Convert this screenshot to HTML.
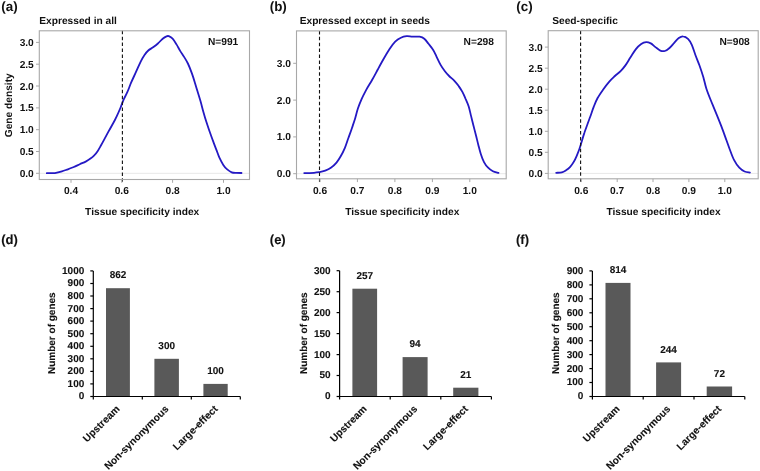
<!DOCTYPE html>
<html><head><meta charset="utf-8"><style>
html,body{margin:0;padding:0;background:#fff;width:760px;height:471px;overflow:hidden}
svg{display:block;will-change:transform}
text{font-family:"Liberation Sans", sans-serif;fill:#111;text-rendering:geometricPrecision}
.bt text{stroke:#111;stroke-width:0.1px}
</style></head><body>
<svg width="760" height="471" viewBox="0 0 760 471">
<rect width="760" height="471" fill="#fff"/>
<text x="1.3" y="10.7" text-anchor="start" font-size="13.4" font-weight="bold" >(a)</text>
<text x="39.3" y="23.8" text-anchor="start" font-size="10.2" font-weight="bold" >Expressed in all</text>
<line x1="39.3" y1="173.3" x2="249.5" y2="173.3" stroke="#e8e8e8" stroke-width="1"/>
<path d="M46.8,173.2 C47.7,173.2 50.5,173.2 52.0,173.1 C53.5,173.0 54.4,173.1 56.0,172.8 C57.6,172.5 59.9,172.0 61.9,171.4 C63.9,170.8 65.9,170.0 67.9,169.3 C69.9,168.6 71.8,167.8 73.8,167.0 C75.8,166.2 77.8,165.1 79.8,164.2 C81.8,163.3 83.9,162.5 85.7,161.6 C87.5,160.7 89.1,159.6 90.5,158.6 C91.9,157.6 92.8,156.9 94.0,155.7 C95.2,154.5 96.4,153.0 97.6,151.2 C98.8,149.4 100.0,147.1 101.2,145.0 C102.4,142.9 103.6,140.6 104.8,138.4 C106.0,136.2 107.1,134.1 108.3,131.9 C109.5,129.8 110.8,127.5 111.9,125.5 C113.0,123.5 114.1,121.6 114.9,120.0 C115.7,118.4 115.8,118.2 116.8,116.1 C117.8,114.0 119.5,110.2 120.6,107.5 C121.7,104.8 122.4,102.5 123.5,99.9 C124.6,97.4 126.0,95.1 127.3,92.2 C128.6,89.3 129.7,86.0 131.1,82.7 C132.5,79.4 134.3,75.7 135.9,72.2 C137.5,68.7 139.3,64.5 140.7,61.6 C142.1,58.7 143.2,56.8 144.5,54.9 C145.8,53.0 146.9,51.8 148.3,50.5 C149.7,49.2 151.5,48.5 153.1,47.3 C154.7,46.1 156.3,44.9 157.9,43.5 C159.5,42.1 161.3,39.9 162.7,38.7 C164.1,37.5 165.5,36.7 166.5,36.3 C167.5,35.9 167.8,35.8 168.8,36.2 C169.8,36.6 171.3,37.3 172.6,38.7 C173.9,40.1 175.2,42.3 176.5,44.4 C177.8,46.5 179.0,49.0 180.3,51.1 C181.6,53.2 182.8,54.8 184.1,56.9 C185.4,59.0 186.6,60.8 187.9,63.5 C189.2,66.2 190.7,70.1 191.8,73.1 C192.9,76.1 193.7,78.7 194.6,81.7 C195.5,84.7 196.5,88.1 197.5,91.3 C198.5,94.5 199.4,97.3 200.4,100.8 C201.4,104.2 202.4,108.4 203.4,112.0 C204.4,115.6 205.4,119.0 206.5,122.3 C207.6,125.6 208.6,128.7 209.7,131.8 C210.8,134.9 211.9,138.0 213.0,140.9 C214.1,143.8 215.1,146.5 216.2,149.3 C217.3,152.1 218.2,155.1 219.4,157.7 C220.6,160.3 222.0,162.9 223.3,164.9 C224.6,166.9 225.8,168.2 227.2,169.4 C228.6,170.6 230.2,171.7 231.7,172.3 C233.2,172.9 234.7,172.8 236.3,172.9 C237.9,173.0 240.6,173.0 241.5,173.0" fill="none" stroke="#2419c4" stroke-width="1.8" stroke-linejoin="round" stroke-linecap="round"/>
<line x1="122.4" y1="30.8" x2="122.4" y2="183.0" stroke="#111" stroke-width="1.1" stroke-dasharray="3.5 2.4"/>
<rect x="39.3" y="30.8" width="210.2" height="148.7" fill="none" stroke="#a8a8a8" stroke-width="1.1"/>
<line x1="36.0" y1="173.3" x2="39.3" y2="173.3" stroke="#a8a8a8" stroke-width="1"/>
<text x="33.8" y="176.8" text-anchor="end" font-size="10.2" font-weight="bold" >0.0</text>
<line x1="36.0" y1="151.5" x2="39.3" y2="151.5" stroke="#a8a8a8" stroke-width="1"/>
<text x="33.8" y="155.0" text-anchor="end" font-size="10.2" font-weight="bold" >0.5</text>
<line x1="36.0" y1="129.7" x2="39.3" y2="129.7" stroke="#a8a8a8" stroke-width="1"/>
<text x="33.8" y="133.2" text-anchor="end" font-size="10.2" font-weight="bold" >1.0</text>
<line x1="36.0" y1="107.9" x2="39.3" y2="107.9" stroke="#a8a8a8" stroke-width="1"/>
<text x="33.8" y="111.4" text-anchor="end" font-size="10.2" font-weight="bold" >1.5</text>
<line x1="36.0" y1="86.0" x2="39.3" y2="86.0" stroke="#a8a8a8" stroke-width="1"/>
<text x="33.8" y="89.5" text-anchor="end" font-size="10.2" font-weight="bold" >2.0</text>
<line x1="36.0" y1="64.2" x2="39.3" y2="64.2" stroke="#a8a8a8" stroke-width="1"/>
<text x="33.8" y="67.7" text-anchor="end" font-size="10.2" font-weight="bold" >2.5</text>
<line x1="36.0" y1="42.4" x2="39.3" y2="42.4" stroke="#a8a8a8" stroke-width="1"/>
<text x="33.8" y="45.9" text-anchor="end" font-size="10.2" font-weight="bold" >3.0</text>
<line x1="71.0" y1="179.5" x2="71.0" y2="182.8" stroke="#a8a8a8" stroke-width="1"/>
<text x="71.0" y="194" text-anchor="middle" font-size="10.2" font-weight="bold" >0.4</text>
<line x1="121.8" y1="179.5" x2="121.8" y2="182.8" stroke="#a8a8a8" stroke-width="1"/>
<text x="121.8" y="194" text-anchor="middle" font-size="10.2" font-weight="bold" >0.6</text>
<line x1="172.6" y1="179.5" x2="172.6" y2="182.8" stroke="#a8a8a8" stroke-width="1"/>
<text x="172.6" y="194" text-anchor="middle" font-size="10.2" font-weight="bold" >0.8</text>
<line x1="223.5" y1="179.5" x2="223.5" y2="182.8" stroke="#a8a8a8" stroke-width="1"/>
<text x="223.5" y="194" text-anchor="middle" font-size="10.2" font-weight="bold" >1.0</text>
<text x="238.3" y="44.8" text-anchor="end" font-size="10.2" font-weight="bold" >N=991</text>
<text x="142.2" y="215.1" text-anchor="middle" font-size="10.2" font-weight="bold" >Tissue specificity index</text>
<text x="0" y="0" transform="translate(12,105.3) rotate(-90) scale(1,1.0)" text-anchor="middle" font-size="10.2" font-weight="bold">Gene density</text>
<text x="269.7" y="10.7" text-anchor="start" font-size="13.4" font-weight="bold" >(b)</text>
<text x="299.7" y="23.8" text-anchor="start" font-size="10.2" font-weight="bold" >Expressed except in seeds</text>
<line x1="296.5" y1="173.7" x2="506.2" y2="173.7" stroke="#e8e8e8" stroke-width="1"/>
<path d="M304.2,173.1 C305.8,173.1 311.4,173.0 314.0,172.8 C316.6,172.6 317.7,172.4 319.6,172.1 C321.5,171.8 323.3,171.4 325.2,170.7 C327.1,170.0 329.0,169.2 330.9,167.8 C332.8,166.5 334.9,164.5 336.5,162.6 C338.1,160.7 339.3,158.8 340.7,156.3 C342.1,153.9 343.6,151.0 344.9,147.9 C346.2,144.8 347.2,141.3 348.4,138.0 C349.6,134.7 350.8,131.5 351.9,128.2 C353.0,124.9 354.2,121.5 355.2,118.2 C356.2,114.9 356.8,111.7 357.9,108.5 C359.0,105.3 360.3,102.1 361.7,98.9 C363.1,95.7 364.8,92.6 366.5,89.4 C368.2,86.2 370.3,83.2 372.2,79.8 C374.1,76.4 376.0,72.8 377.9,69.3 C379.8,65.8 381.8,62.1 383.7,58.8 C385.6,55.4 387.5,52.1 389.4,49.2 C391.3,46.3 393.3,43.5 395.2,41.6 C397.1,39.7 399.0,38.6 400.9,37.7 C402.8,36.8 404.7,36.4 406.6,36.2 C408.5,36.0 410.2,36.5 412.4,36.6 C414.6,36.7 417.6,36.4 419.6,36.7 C421.6,37.1 422.8,37.5 424.3,38.7 C425.8,39.9 427.0,41.9 428.5,43.8 C430.0,45.7 431.9,47.9 433.2,50.0 C434.5,52.1 435.2,53.9 436.4,56.4 C437.6,58.9 439.2,62.4 440.6,64.9 C442.0,67.4 443.5,69.4 444.9,71.2 C446.3,73.0 447.5,74.4 449.1,76.0 C450.7,77.6 452.8,79.1 454.4,80.8 C456.0,82.5 457.4,84.2 458.7,86.1 C460.0,87.9 461.2,89.8 462.4,91.9 C463.5,94.0 464.6,96.4 465.6,98.8 C466.7,101.2 467.8,103.6 468.7,106.5 C469.6,109.4 470.3,112.9 471.1,116.1 C471.9,119.3 472.7,122.6 473.5,125.8 C474.3,129.0 475.2,132.3 476.0,135.5 C476.8,138.7 477.6,142.1 478.4,145.2 C479.2,148.3 479.9,151.2 480.8,154.0 C481.7,156.8 482.8,159.8 484.0,162.1 C485.2,164.4 486.6,166.2 488.1,167.7 C489.6,169.2 491.2,170.4 492.9,171.3 C494.6,172.2 497.6,172.6 498.5,172.9" fill="none" stroke="#2419c4" stroke-width="1.8" stroke-linejoin="round" stroke-linecap="round"/>
<line x1="319.5" y1="30.9" x2="319.5" y2="182.3" stroke="#111" stroke-width="1.1" stroke-dasharray="3.5 2.4"/>
<rect x="296.5" y="30.9" width="209.7" height="147.9" fill="none" stroke="#a8a8a8" stroke-width="1.1"/>
<line x1="293.2" y1="173.7" x2="296.5" y2="173.7" stroke="#a8a8a8" stroke-width="1"/>
<text x="291.0" y="177.2" text-anchor="end" font-size="10.2" font-weight="bold" >0.0</text>
<line x1="293.2" y1="136.9" x2="296.5" y2="136.9" stroke="#a8a8a8" stroke-width="1"/>
<text x="291.0" y="140.4" text-anchor="end" font-size="10.2" font-weight="bold" >1.0</text>
<line x1="293.2" y1="100.1" x2="296.5" y2="100.1" stroke="#a8a8a8" stroke-width="1"/>
<text x="291.0" y="103.6" text-anchor="end" font-size="10.2" font-weight="bold" >2.0</text>
<line x1="293.2" y1="63.3" x2="296.5" y2="63.3" stroke="#a8a8a8" stroke-width="1"/>
<text x="291.0" y="66.8" text-anchor="end" font-size="10.2" font-weight="bold" >3.0</text>
<line x1="320.0" y1="178.8" x2="320.0" y2="182.10000000000002" stroke="#a8a8a8" stroke-width="1"/>
<text x="320.0" y="194" text-anchor="middle" font-size="10.2" font-weight="bold" >0.6</text>
<line x1="357.4" y1="178.8" x2="357.4" y2="182.10000000000002" stroke="#a8a8a8" stroke-width="1"/>
<text x="357.4" y="194" text-anchor="middle" font-size="10.2" font-weight="bold" >0.7</text>
<line x1="394.9" y1="178.8" x2="394.9" y2="182.10000000000002" stroke="#a8a8a8" stroke-width="1"/>
<text x="394.9" y="194" text-anchor="middle" font-size="10.2" font-weight="bold" >0.8</text>
<line x1="432.4" y1="178.8" x2="432.4" y2="182.10000000000002" stroke="#a8a8a8" stroke-width="1"/>
<text x="432.4" y="194" text-anchor="middle" font-size="10.2" font-weight="bold" >0.9</text>
<line x1="469.8" y1="178.8" x2="469.8" y2="182.10000000000002" stroke="#a8a8a8" stroke-width="1"/>
<text x="469.8" y="194" text-anchor="middle" font-size="10.2" font-weight="bold" >1.0</text>
<text x="493.9" y="44.8" text-anchor="end" font-size="10.2" font-weight="bold" >N=298</text>
<text x="402.3" y="215.1" text-anchor="middle" font-size="10.2" font-weight="bold" >Tissue specificity index</text>
<text x="516.3" y="10.7" text-anchor="start" font-size="13.4" font-weight="bold" >(c)</text>
<text x="552.2" y="23.8" text-anchor="start" font-size="10.2" font-weight="bold" >Seed-specific</text>
<line x1="548.2" y1="173.4" x2="758.2" y2="173.4" stroke="#e8e8e8" stroke-width="1"/>
<path d="M556.2,172.8 C557.1,172.7 560.2,172.8 561.8,172.4 C563.4,172.0 564.6,171.2 566.0,170.3 C567.4,169.4 568.9,168.2 570.2,166.8 C571.5,165.4 572.7,163.7 573.7,161.9 C574.8,160.2 575.6,158.4 576.5,156.3 C577.4,154.2 578.5,151.6 579.3,149.3 C580.1,147.0 580.7,145.0 581.5,142.3 C582.3,139.6 583.2,136.3 584.3,133.1 C585.3,129.9 586.8,126.1 587.8,123.3 C588.8,120.5 589.4,119.1 590.4,116.3 C591.4,113.5 592.6,109.6 593.8,106.6 C595.0,103.5 596.0,100.9 597.6,98.0 C599.2,95.1 601.5,91.9 603.4,89.2 C605.3,86.5 607.2,84.0 609.1,81.8 C611.0,79.6 613.0,77.8 614.9,76.0 C616.8,74.2 618.9,73.0 620.6,71.2 C622.4,69.4 623.8,67.6 625.4,65.4 C627.0,63.2 628.5,60.5 630.2,57.8 C632.0,55.1 634.1,51.4 635.9,49.1 C637.7,46.8 639.5,45.2 641.2,44.0 C642.9,42.8 644.6,42.2 646.2,42.1 C647.8,42.0 649.2,42.6 650.8,43.4 C652.3,44.2 653.9,45.9 655.5,47.1 C657.1,48.3 658.8,50.0 660.3,50.6 C661.8,51.2 663.3,51.4 664.8,51.0 C666.3,50.6 667.9,49.4 669.5,48.0 C671.1,46.6 672.7,44.5 674.2,42.8 C675.8,41.1 677.3,39.1 678.8,38.0 C680.3,36.9 681.7,36.1 683.2,36.3 C684.7,36.4 686.6,37.5 688.0,38.9 C689.4,40.3 690.6,42.1 691.8,44.8 C693.0,47.5 694.1,51.5 695.4,55.0 C696.7,58.5 698.2,61.9 699.5,65.5 C700.8,69.2 702.1,73.0 703.3,76.9 C704.4,80.8 705.0,84.4 706.4,88.7 C707.8,93.0 709.9,98.1 711.7,102.5 C713.5,106.9 715.4,111.4 717.0,115.3 C718.6,119.2 719.8,122.2 721.2,125.9 C722.6,129.6 724.1,133.7 725.5,137.6 C726.9,141.5 728.3,145.5 729.7,149.2 C731.1,152.9 732.4,156.8 734.0,159.9 C735.6,163.0 737.5,165.8 739.3,167.7 C741.1,169.6 742.8,170.7 744.6,171.5 C746.4,172.3 749.0,172.4 749.9,172.6" fill="none" stroke="#2419c4" stroke-width="1.8" stroke-linejoin="round" stroke-linecap="round"/>
<line x1="580.6" y1="30.7" x2="580.6" y2="182.3" stroke="#111" stroke-width="1.1" stroke-dasharray="3.5 2.4"/>
<rect x="548.2" y="30.7" width="210.0" height="148.10000000000002" fill="none" stroke="#a8a8a8" stroke-width="1.1"/>
<line x1="544.9000000000001" y1="173.4" x2="548.2" y2="173.4" stroke="#a8a8a8" stroke-width="1"/>
<text x="542.7" y="176.9" text-anchor="end" font-size="10.2" font-weight="bold" >0.0</text>
<line x1="544.9000000000001" y1="152.3" x2="548.2" y2="152.3" stroke="#a8a8a8" stroke-width="1"/>
<text x="542.7" y="155.8" text-anchor="end" font-size="10.2" font-weight="bold" >0.5</text>
<line x1="544.9000000000001" y1="131.3" x2="548.2" y2="131.3" stroke="#a8a8a8" stroke-width="1"/>
<text x="542.7" y="134.8" text-anchor="end" font-size="10.2" font-weight="bold" >1.0</text>
<line x1="544.9000000000001" y1="110.2" x2="548.2" y2="110.2" stroke="#a8a8a8" stroke-width="1"/>
<text x="542.7" y="113.7" text-anchor="end" font-size="10.2" font-weight="bold" >1.5</text>
<line x1="544.9000000000001" y1="89.2" x2="548.2" y2="89.2" stroke="#a8a8a8" stroke-width="1"/>
<text x="542.7" y="92.7" text-anchor="end" font-size="10.2" font-weight="bold" >2.0</text>
<line x1="544.9000000000001" y1="68.2" x2="548.2" y2="68.2" stroke="#a8a8a8" stroke-width="1"/>
<text x="542.7" y="71.7" text-anchor="end" font-size="10.2" font-weight="bold" >2.5</text>
<line x1="544.9000000000001" y1="47.1" x2="548.2" y2="47.1" stroke="#a8a8a8" stroke-width="1"/>
<text x="542.7" y="50.6" text-anchor="end" font-size="10.2" font-weight="bold" >3.0</text>
<line x1="581.3" y1="178.8" x2="581.3" y2="182.10000000000002" stroke="#a8a8a8" stroke-width="1"/>
<text x="581.3" y="194" text-anchor="middle" font-size="10.2" font-weight="bold" >0.6</text>
<line x1="617.2" y1="178.8" x2="617.2" y2="182.10000000000002" stroke="#a8a8a8" stroke-width="1"/>
<text x="617.2" y="194" text-anchor="middle" font-size="10.2" font-weight="bold" >0.7</text>
<line x1="653.0" y1="178.8" x2="653.0" y2="182.10000000000002" stroke="#a8a8a8" stroke-width="1"/>
<text x="653.0" y="194" text-anchor="middle" font-size="10.2" font-weight="bold" >0.8</text>
<line x1="688.9" y1="178.8" x2="688.9" y2="182.10000000000002" stroke="#a8a8a8" stroke-width="1"/>
<text x="688.9" y="194" text-anchor="middle" font-size="10.2" font-weight="bold" >0.9</text>
<line x1="724.8" y1="178.8" x2="724.8" y2="182.10000000000002" stroke="#a8a8a8" stroke-width="1"/>
<text x="724.8" y="194" text-anchor="middle" font-size="10.2" font-weight="bold" >1.0</text>
<text x="749.8" y="44.8" text-anchor="end" font-size="10.2" font-weight="bold" >N=908</text>
<text x="663.5" y="215.1" text-anchor="middle" font-size="10.2" font-weight="bold" >Tissue specificity index</text>
<g class="bt">
<text x="1.2" y="243.8" text-anchor="start" font-size="13" font-weight="bold" >(d)</text>
<rect x="106.0" y="288.2" width="23.9" height="108.3" fill="#595959"/>
<text x="118.0" y="278.4" text-anchor="middle" font-size="10" font-weight="bold" >862</text>
<rect x="154.4" y="358.8" width="24.5" height="37.7" fill="#595959"/>
<text x="166.7" y="349.0" text-anchor="middle" font-size="10" font-weight="bold" >300</text>
<rect x="203.4" y="383.9" width="24.3" height="12.6" fill="#595959"/>
<text x="215.6" y="374.1" text-anchor="middle" font-size="10" font-weight="bold" >100</text>
<line x1="93.3" y1="270.9" x2="93.3" y2="399.5" stroke="#000" stroke-width="1.2"/>
<line x1="93.3" y1="396.5" x2="240.3" y2="396.5" stroke="#000" stroke-width="1.2"/>
<line x1="90.3" y1="396.5" x2="93.3" y2="396.5" stroke="#000" stroke-width="1.2"/>
<text x="84.3" y="399.4" text-anchor="end" font-size="10" font-weight="bold" >0</text>
<line x1="90.3" y1="383.9" x2="93.3" y2="383.9" stroke="#000" stroke-width="1.2"/>
<text x="84.3" y="386.8" text-anchor="end" font-size="10" font-weight="bold" >100</text>
<line x1="90.3" y1="371.4" x2="93.3" y2="371.4" stroke="#000" stroke-width="1.2"/>
<text x="84.3" y="374.3" text-anchor="end" font-size="10" font-weight="bold" >200</text>
<line x1="90.3" y1="358.8" x2="93.3" y2="358.8" stroke="#000" stroke-width="1.2"/>
<text x="84.3" y="361.7" text-anchor="end" font-size="10" font-weight="bold" >300</text>
<line x1="90.3" y1="346.3" x2="93.3" y2="346.3" stroke="#000" stroke-width="1.2"/>
<text x="84.3" y="349.2" text-anchor="end" font-size="10" font-weight="bold" >400</text>
<line x1="90.3" y1="333.7" x2="93.3" y2="333.7" stroke="#000" stroke-width="1.2"/>
<text x="84.3" y="336.6" text-anchor="end" font-size="10" font-weight="bold" >500</text>
<line x1="90.3" y1="321.1" x2="93.3" y2="321.1" stroke="#000" stroke-width="1.2"/>
<text x="84.3" y="324.0" text-anchor="end" font-size="10" font-weight="bold" >600</text>
<line x1="90.3" y1="308.6" x2="93.3" y2="308.6" stroke="#000" stroke-width="1.2"/>
<text x="84.3" y="311.5" text-anchor="end" font-size="10" font-weight="bold" >700</text>
<line x1="90.3" y1="296.0" x2="93.3" y2="296.0" stroke="#000" stroke-width="1.2"/>
<text x="84.3" y="298.9" text-anchor="end" font-size="10" font-weight="bold" >800</text>
<line x1="90.3" y1="283.5" x2="93.3" y2="283.5" stroke="#000" stroke-width="1.2"/>
<text x="84.3" y="286.4" text-anchor="end" font-size="10" font-weight="bold" >900</text>
<line x1="90.3" y1="270.9" x2="93.3" y2="270.9" stroke="#000" stroke-width="1.2"/>
<text x="84.3" y="273.8" text-anchor="end" font-size="10" font-weight="bold" >1000</text>
<line x1="142.3" y1="396.5" x2="142.3" y2="399.5" stroke="#000" stroke-width="1.2"/>
<line x1="191.3" y1="396.5" x2="191.3" y2="399.5" stroke="#000" stroke-width="1.2"/>
<line x1="240.3" y1="396.5" x2="240.3" y2="399.5" stroke="#000" stroke-width="1.2"/>
<text x="0" y="0" transform="translate(120.3,409.5) rotate(-45)" text-anchor="end" font-size="10.2" font-weight="bold">Upstream</text>
<text x="0" y="0" transform="translate(169.3,409.5) rotate(-45)" text-anchor="end" font-size="10.2" font-weight="bold">Non-synonymous</text>
<text x="0" y="0" transform="translate(218.3,409.5) rotate(-45)" text-anchor="end" font-size="10.2" font-weight="bold">Large-effect</text>
<text x="0" y="0" transform="translate(55,333.2) rotate(-90)" text-anchor="middle" font-size="10" font-weight="bold">Number of genes</text>
</g>
<g class="bt">
<text x="269.8" y="243.8" text-anchor="start" font-size="13" font-weight="bold" >(e)</text>
<rect x="352.4" y="288.7" width="24.7" height="107.8" fill="#595959"/>
<text x="364.8" y="278.9" text-anchor="middle" font-size="10" font-weight="bold" >257</text>
<rect x="402.6" y="357.1" width="25.0" height="39.4" fill="#595959"/>
<text x="415.1" y="347.3" text-anchor="middle" font-size="10" font-weight="bold" >94</text>
<rect x="453.2" y="387.7" width="25.2" height="8.8" fill="#595959"/>
<text x="465.8" y="377.9" text-anchor="middle" font-size="10" font-weight="bold" >21</text>
<line x1="339.6" y1="270.7" x2="339.6" y2="399.5" stroke="#000" stroke-width="1.2"/>
<line x1="339.6" y1="396.5" x2="491.4" y2="396.5" stroke="#000" stroke-width="1.2"/>
<line x1="336.6" y1="396.5" x2="339.6" y2="396.5" stroke="#000" stroke-width="1.2"/>
<text x="330.6" y="399.4" text-anchor="end" font-size="10" font-weight="bold" >0</text>
<line x1="336.6" y1="375.5" x2="339.6" y2="375.5" stroke="#000" stroke-width="1.2"/>
<text x="330.6" y="378.4" text-anchor="end" font-size="10" font-weight="bold" >50</text>
<line x1="336.6" y1="354.6" x2="339.6" y2="354.6" stroke="#000" stroke-width="1.2"/>
<text x="330.6" y="357.5" text-anchor="end" font-size="10" font-weight="bold" >100</text>
<line x1="336.6" y1="333.6" x2="339.6" y2="333.6" stroke="#000" stroke-width="1.2"/>
<text x="330.6" y="336.5" text-anchor="end" font-size="10" font-weight="bold" >150</text>
<line x1="336.6" y1="312.6" x2="339.6" y2="312.6" stroke="#000" stroke-width="1.2"/>
<text x="330.6" y="315.5" text-anchor="end" font-size="10" font-weight="bold" >200</text>
<line x1="336.6" y1="291.7" x2="339.6" y2="291.7" stroke="#000" stroke-width="1.2"/>
<text x="330.6" y="294.6" text-anchor="end" font-size="10" font-weight="bold" >250</text>
<line x1="336.6" y1="270.7" x2="339.6" y2="270.7" stroke="#000" stroke-width="1.2"/>
<text x="330.6" y="273.6" text-anchor="end" font-size="10" font-weight="bold" >300</text>
<line x1="390.2" y1="396.5" x2="390.2" y2="399.5" stroke="#000" stroke-width="1.2"/>
<line x1="440.8" y1="396.5" x2="440.8" y2="399.5" stroke="#000" stroke-width="1.2"/>
<line x1="491.4" y1="396.5" x2="491.4" y2="399.5" stroke="#000" stroke-width="1.2"/>
<text x="0" y="0" transform="translate(367.4,409.5) rotate(-45)" text-anchor="end" font-size="10.2" font-weight="bold">Upstream</text>
<text x="0" y="0" transform="translate(418.0,409.5) rotate(-45)" text-anchor="end" font-size="10.2" font-weight="bold">Non-synonymous</text>
<text x="0" y="0" transform="translate(468.6,409.5) rotate(-45)" text-anchor="end" font-size="10.2" font-weight="bold">Large-effect</text>
<text x="0" y="0" transform="translate(306.5,333.2) rotate(-90)" text-anchor="middle" font-size="10" font-weight="bold">Number of genes</text>
</g>
<g class="bt">
<text x="516" y="243.8" text-anchor="start" font-size="13" font-weight="bold" >(f)</text>
<rect x="605.5" y="282.9" width="25.0" height="113.6" fill="#595959"/>
<text x="618.0" y="273.1" text-anchor="middle" font-size="10" font-weight="bold" >814</text>
<rect x="656.1" y="362.4" width="25.0" height="34.1" fill="#595959"/>
<text x="668.6" y="352.6" text-anchor="middle" font-size="10" font-weight="bold" >244</text>
<rect x="706.7" y="386.5" width="25.4" height="10.0" fill="#595959"/>
<text x="719.4" y="376.7" text-anchor="middle" font-size="10" font-weight="bold" >72</text>
<line x1="592.4" y1="270.9" x2="592.4" y2="399.5" stroke="#000" stroke-width="1.2"/>
<line x1="592.4" y1="396.5" x2="744.8" y2="396.5" stroke="#000" stroke-width="1.2"/>
<line x1="589.4" y1="396.5" x2="592.4" y2="396.5" stroke="#000" stroke-width="1.2"/>
<text x="583.4" y="399.4" text-anchor="end" font-size="10" font-weight="bold" >0</text>
<line x1="589.4" y1="382.5" x2="592.4" y2="382.5" stroke="#000" stroke-width="1.2"/>
<text x="583.4" y="385.4" text-anchor="end" font-size="10" font-weight="bold" >100</text>
<line x1="589.4" y1="368.6" x2="592.4" y2="368.6" stroke="#000" stroke-width="1.2"/>
<text x="583.4" y="371.5" text-anchor="end" font-size="10" font-weight="bold" >200</text>
<line x1="589.4" y1="354.6" x2="592.4" y2="354.6" stroke="#000" stroke-width="1.2"/>
<text x="583.4" y="357.5" text-anchor="end" font-size="10" font-weight="bold" >300</text>
<line x1="589.4" y1="340.7" x2="592.4" y2="340.7" stroke="#000" stroke-width="1.2"/>
<text x="583.4" y="343.6" text-anchor="end" font-size="10" font-weight="bold" >400</text>
<line x1="589.4" y1="326.7" x2="592.4" y2="326.7" stroke="#000" stroke-width="1.2"/>
<text x="583.4" y="329.6" text-anchor="end" font-size="10" font-weight="bold" >500</text>
<line x1="589.4" y1="312.8" x2="592.4" y2="312.8" stroke="#000" stroke-width="1.2"/>
<text x="583.4" y="315.7" text-anchor="end" font-size="10" font-weight="bold" >600</text>
<line x1="589.4" y1="298.8" x2="592.4" y2="298.8" stroke="#000" stroke-width="1.2"/>
<text x="583.4" y="301.7" text-anchor="end" font-size="10" font-weight="bold" >700</text>
<line x1="589.4" y1="284.9" x2="592.4" y2="284.9" stroke="#000" stroke-width="1.2"/>
<text x="583.4" y="287.8" text-anchor="end" font-size="10" font-weight="bold" >800</text>
<line x1="589.4" y1="270.9" x2="592.4" y2="270.9" stroke="#000" stroke-width="1.2"/>
<text x="583.4" y="273.8" text-anchor="end" font-size="10" font-weight="bold" >900</text>
<line x1="643.2" y1="396.5" x2="643.2" y2="399.5" stroke="#000" stroke-width="1.2"/>
<line x1="694.0" y1="396.5" x2="694.0" y2="399.5" stroke="#000" stroke-width="1.2"/>
<line x1="744.8" y1="396.5" x2="744.8" y2="399.5" stroke="#000" stroke-width="1.2"/>
<text x="0" y="0" transform="translate(620.3,409.5) rotate(-45)" text-anchor="end" font-size="10.2" font-weight="bold">Upstream</text>
<text x="0" y="0" transform="translate(671.1,409.5) rotate(-45)" text-anchor="end" font-size="10.2" font-weight="bold">Non-synonymous</text>
<text x="0" y="0" transform="translate(721.9,409.5) rotate(-45)" text-anchor="end" font-size="10.2" font-weight="bold">Large-effect</text>
<text x="0" y="0" transform="translate(558.5,333.2) rotate(-90)" text-anchor="middle" font-size="10" font-weight="bold">Number of genes</text>
</g>
</svg>
</body></html>
